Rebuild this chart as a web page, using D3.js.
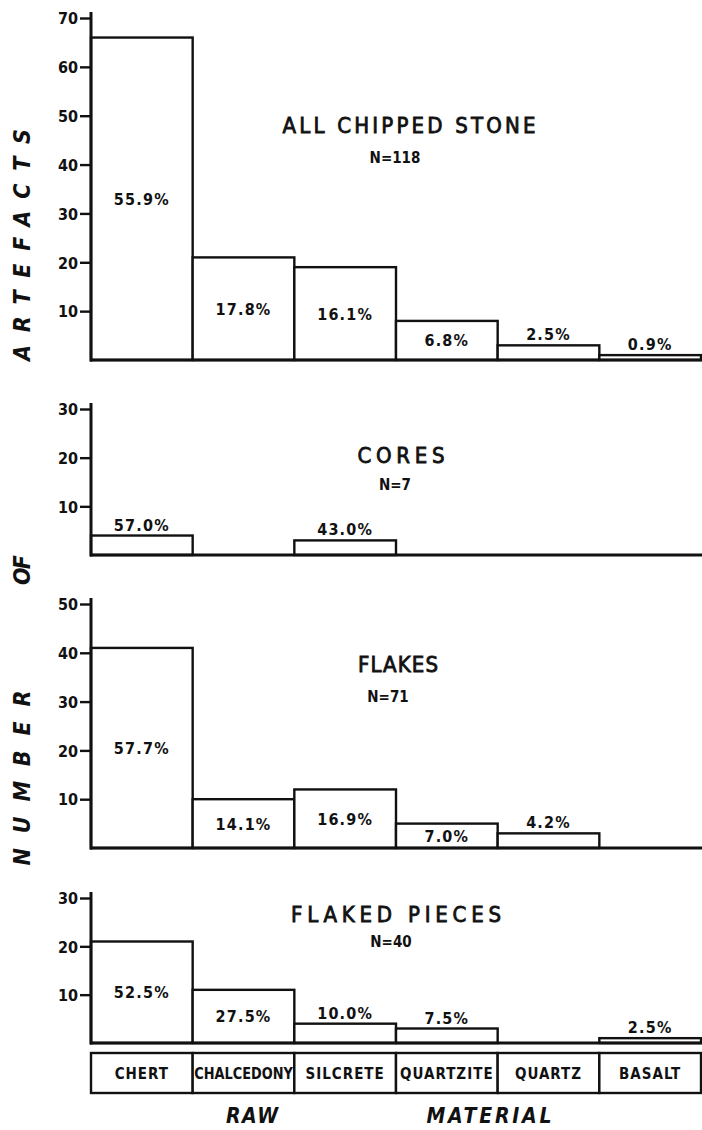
<!DOCTYPE html>
<html><head><meta charset="utf-8">
<script src="https://cdn.jsdelivr.net/npm/d3@7"></script>
<style>
html,body{margin:0;padding:0;background:#fff;}
svg{display:block;}
text{font-family:"DejaVu Sans Condensed","DejaVu Sans","Liberation Sans",sans-serif;fill:#111;}
</style></head>
<body><svg id="c" width="702" height="1130"></svg>
<script>
const categories = ["CHERT","CHALCEDONY","SILCRETE","QUARTZITE","QUARTZ","BASALT"];
const allStone = [66,21,19,8,3,1];
const allStonePct = ["55.9%","17.8%","16.1%","6.8%","2.5%","0.9%"];
const cores = [4,0,3,0,0,0];
const coresPct = ["57.0%","","43.0%","","",""];
const flakes = [41,10,12,5,3,0];
const flakesPct = ["57.7%","14.1%","16.9%","7.0%","4.2%",""];
const flakedPieces = [21,11,4,3,0,1];
const flakedPiecesPct = ["52.5%","27.5%","10.0%","7.5%","","2.5%"];
const panelTitles = ["ALL CHIPPED STONE","CORES","FLAKES","FLAKED PIECES"];
const panelN = ["N=118","N=7","N=71","N=40"];
const yMaxes = [70,30,50,30];
const yAxisWords = ["ARTEFACTS","OF","NUMBER"];
const xAxisWords = ["RAW","MATERIAL"];

const svg = d3.select("#c");
const x = d3.scaleBand().domain(categories).range([91,701]).paddingInner(0).paddingOuter(0);
const bw = x.bandwidth();

const panels = [
  {vals:allStone, pct:allStonePct, base:360, top:18, title:{cx:409,y:133,len:253,size:22}, n:{cx:395,y:163}},
  {vals:cores, pct:coresPct, base:555, top:409, title:{cx:401,y:463,len:87,size:22}, n:{cx:395,y:490}},
  {vals:flakes, pct:flakesPct, base:848, top:604, title:{cx:398,y:672,len:80,size:22}, n:{cx:388,y:702}},
  {vals:flakedPieces, pct:flakedPiecesPct, base:1043, top:898, title:{cx:396,y:922,len:210,size:22}, n:{cx:391,y:947}}
];

panels.forEach((p,i)=>{
  const y = d3.scaleLinear().domain([0,yMaxes[i]]).range([p.base,p.top]);
  const g = svg.append("g");
  categories.forEach((c,j)=>{
    const v = p.vals[j];
    if(v>0){
      g.append("rect").attr("x",x(c)).attr("y",y(v)).attr("width",bw).attr("height",y(0)-y(v))
        .attr("fill","#fff").attr("stroke","#111").attr("stroke-width",2.4);
    }
    const t = p.pct[j];
    if(t){
      const ly = v>=5 ? y(v/2)+6 : y(v)-5;
      g.append("text").attr("x",x(c)+bw/2).attr("y",ly).attr("text-anchor","middle")
        .attr("font-size",16).attr("font-weight","bold").attr("letter-spacing",1.2).text(t);
    }
  });
  g.append("line").attr("x1",90).attr("x2",702).attr("y1",y(0)).attr("y2",y(0))
    .attr("stroke","#111").attr("stroke-width",3);
  const ax = g.append("g").attr("transform","translate(91,0)")
    .call(d3.axisLeft(y).tickValues(d3.range(10,yMaxes[i]+1,10)).tickSize(11).tickPadding(2).tickSizeOuter(0));
  ax.select(".domain").remove();
  ax.selectAll(".tick line").attr("stroke","#111").attr("stroke-width",2.4);
  ax.selectAll(".tick text").attr("font-size",16).attr("font-weight","bold")
    .attr("font-family","\"DejaVu Sans Condensed\",sans-serif").attr("fill","#111").attr("dy","0.36em");
  g.append("line").attr("x1",91).attr("x2",91).attr("y1",y(0)+1.5).attr("y2",y(yMaxes[i])-6)
    .attr("stroke","#111").attr("stroke-width",3);
  g.append("text").attr("x",p.title.cx).attr("y",p.title.y).attr("text-anchor","middle")
    .attr("font-size",p.title.size).attr("stroke","#111").attr("stroke-width",0.8)
    .attr("textLength",p.title.len).attr("lengthAdjust","spacing").text(panelTitles[i]);
  g.append("text").attr("x",p.n.cx).attr("y",p.n.y).attr("text-anchor","middle")
    .attr("font-size",15).attr("font-weight","bold").text(panelN[i]);
});

const cg = svg.append("g");
categories.forEach(c=>{
  cg.append("rect").attr("x",x(c)).attr("y",1053).attr("width",bw).attr("height",40)
    .attr("fill","#fff").attr("stroke","#111").attr("stroke-width",2.4);
  const t = cg.append("text").attr("x",x(c)+bw/2).attr("y",1079).attr("text-anchor","middle")
    .attr("font-size",15).attr("font-weight","bold").attr("letter-spacing",1).text(c);
  if(t.node().getComputedTextLength()>bw-3){
    t.attr("letter-spacing",0).attr("textLength",bw-3).attr("lengthAdjust","spacingAndGlyphs");
  }
});

[[xAxisWords[0],252,52],[xAxisWords[1],489,125]].forEach(([w,cx,len])=>{
  svg.append("text").attr("x",cx).attr("y",1123).attr("text-anchor","middle")
    .attr("font-size",21).attr("font-style","italic").attr("font-weight","bold")
    .attr("textLength",len).attr("lengthAdjust","spacing").text(w);
});

[[yAxisWords[0],245,232],[yAxisWords[1],570,30],[yAxisWords[2],778,175]].forEach(([w,cy,len])=>{
  svg.append("text").attr("transform",`translate(30,${cy}) rotate(-90)`).attr("text-anchor","middle")
    .attr("font-size",23).attr("font-style","italic").attr("font-weight","bold")
    .attr("textLength",len).attr("lengthAdjust","spacing").text(w);
});
</script></body></html>
